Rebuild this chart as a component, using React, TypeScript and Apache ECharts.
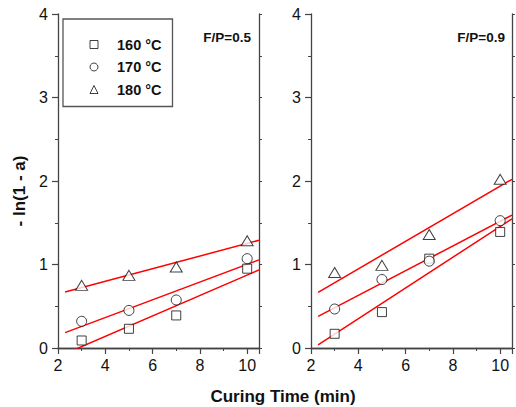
import React, { useEffect, useRef } from "react";
import * as echarts from "echarts";

const times = [3, 5, 7, 10];
const temps = ["160 °C", "170 °C", "180 °C"];
const panelLabels = ["F/P=0.5", "F/P=0.9"];
// F/P = 0.5
const left160 = [0.09, 0.23, 0.39, 0.95];
const left170 = [0.32, 0.45, 0.575, 1.07];
const left180 = [0.75, 0.87, 0.97, 1.285];
// F/P = 0.9
const right160 = [0.17, 0.43, 1.07, 1.39];
const right170 = [0.467, 0.82, 1.04, 1.525];
const right180 = [0.905, 0.99, 1.36, 2.02];
const fitRange = [2.3, 10.5];
const xTicks = [2, 4, 6, 8, 10];
const yTicks = [0, 1, 2, 3, 4];

const FONT = "'Liberation Sans', Arial, sans-serif";
const AXIS = "#444";

function fitLine(xs: number[], ys: number[]) {
  const n = xs.length;
  const mx = xs.reduce((a, b) => a + b, 0) / n;
  const my = ys.reduce((a, b) => a + b, 0) / n;
  let sxy = 0;
  let sxx = 0;
  for (let i = 0; i < n; i++) {
    sxy += (xs[i] - mx) * (ys[i] - my);
    sxx += (xs[i] - mx) * (xs[i] - mx);
  }
  const b = sxy / sxx;
  const a = my - b * mx;
  return fitRange.map((x) => [x, a + b * x]);
}

export default function App() {
  const ref = useRef<HTMLDivElement>(null);
  useEffect(() => {
    if (!ref.current) return;
    const chart = echarts.init(ref.current, undefined, { renderer: "svg" });
    const panels = [
      [left160, left170, left180],
      [right160, right170, right180],
    ];
    const symbols: any[] = ["rect", "circle", "triangle"];
    const sizes: any[] = [9, 10, [12, 10]];
    const grids = [
      { left: 58, top: 14, width: 201, height: 334 },
      { left: 311, top: 14, width: 201, height: 334 },
    ];
    const xAxis: any[] = [];
    const yAxis: any[] = [];
    grids.forEach((_, g) => {
      xAxis.push({
        type: "value",
        gridIndex: g,
        min: 2,
        max: 10.5,
        interval: 2,
        position: "bottom",
        axisLine: { show: true, lineStyle: { color: AXIS, width: 1.3 } },
        axisTick: { show: true, inside: false, length: 6, lineStyle: { color: AXIS, width: 1.2 } },
        axisLabel: {
          margin: 9,
          fontSize: 16,
          color: "#111",
          fontFamily: FONT,
          formatter: (v: number) => (xTicks.includes(v) ? String(v) : ""),
        },
        splitLine: { show: false },
      });
      xAxis.push({
        type: "value",
        gridIndex: g,
        min: 2,
        max: 10.5,
        interval: 1,
        position: "top",
        axisLine: { show: true, lineStyle: { color: AXIS, width: 1.3 } },
        axisTick: { show: true, inside: true, length: 3, lineStyle: { color: AXIS, width: 1 } },
        axisLabel: { show: false },
        splitLine: { show: false },
      });
      yAxis.push({
        type: "value",
        gridIndex: g,
        min: 0,
        max: 4,
        interval: 1,
        position: "left",
        axisLine: { show: true, lineStyle: { color: AXIS, width: 1.3 } },
        axisTick: { show: true, inside: false, length: 6, lineStyle: { color: AXIS, width: 1.2 } },
        minorTick: { show: true, splitNumber: 2, length: 3, lineStyle: { color: AXIS, width: 1 } },
        axisLabel: {
          margin: 10,
          fontSize: 16,
          color: "#111",
          fontFamily: FONT,
          formatter: (v: number) => (yTicks.includes(v) ? String(v) : ""),
        },
        splitLine: { show: false },
        minorSplitLine: { show: false },
      });
      yAxis.push({
        type: "value",
        gridIndex: g,
        min: 0,
        max: 4,
        interval: 0.5,
        position: "right",
        axisLine: { show: true, lineStyle: { color: AXIS, width: 1.3 } },
        axisTick: { show: true, inside: false, length: 3, lineStyle: { color: AXIS, width: 1 } },
        axisLabel: { show: false },
        splitLine: { show: false },
      });
    });

    const series: any[] = [];
    panels.forEach((sets, p) => {
      sets.forEach((ys, i) => {
        series.push({
          type: "line",
          name: "fit" + p + i,
          xAxisIndex: p * 2,
          yAxisIndex: p * 2,
          data: fitLine(times, ys),
          showSymbol: false,
          symbol: "none",
          lineStyle: { color: "#ff0000", width: 1.5 },
          clip: true,
          z: 2,
          silent: true,
        });
      });
      sets.forEach((ys, i) => {
        series.push({
          type: "scatter",
          name: temps[i],
          xAxisIndex: p * 2,
          yAxisIndex: p * 2,
          data: times.map((t, k) => [t, ys[k]]),
          symbol: symbols[i],
          symbolSize: sizes[i],
          itemStyle: { color: "#ffffff", borderColor: "#111", borderWidth: 1 },
          z: 5,
        });
      });
    });

    chart.setOption({
      animation: false,
      backgroundColor: "#ffffff",
      grid: grids,
      xAxis,
      yAxis,
      legend: {
        show: true,
        orient: "vertical",
        left: 63,
        top: 19,
        width: 107,
        data: temps.map((t, i) => ({ name: t, icon: ["rect", "circle", "triangle"][i] })),
        itemWidth: 8,
        itemHeight: 8,
        itemGap: 6.5,
        padding: [17.5, 11, 9, 26.5],
        borderColor: "#555",
        borderWidth: 1.3,
        backgroundColor: "#ffffff",
        selectedMode: false,
        itemStyle: { color: "#ffffff", borderColor: "#111", borderWidth: 1 },
        textStyle: {
          fontFamily: FONT,
          fontWeight: "bold",
          fontSize: 14.5,
          lineHeight: 16,
          color: "#111",
          padding: [0, 0, 0, 14],
        },
      },
      graphic: [
        {
          type: "text",
          right: 516 - 251,
          top: 30,
          style: { text: panelLabels[0], font: `bold 13.5px ${FONT}`, fill: "#111" },
        },
        {
          type: "text",
          right: 516 - 505,
          top: 30,
          style: { text: panelLabels[1], font: `bold 13.5px ${FONT}`, fill: "#111" },
        },
        {
          type: "text",
          x: 283,
          y: 396,
          style: {
            text: "Curing Time (min)",
            font: `bold 17px ${FONT}`,
            fill: "#111",
            align: "center",
            verticalAlign: "middle",
          },
        },
        {
          type: "text",
          x: 19,
          y: 191,
          rotation: Math.PI / 2,
          style: {
            text: "- ln(1 - a)",
            font: `bold 17px ${FONT}`,
            fill: "#111",
            align: "center",
            verticalAlign: "middle",
          },
        },
      ],
      series,
    });
    return () => chart.dispose();
  }, []);
  return (
    <div
      ref={ref}
      style={{ position: "fixed", left: 0, top: 0, width: 516, height: 407, background: "#fff" }}
    />
  );
}
